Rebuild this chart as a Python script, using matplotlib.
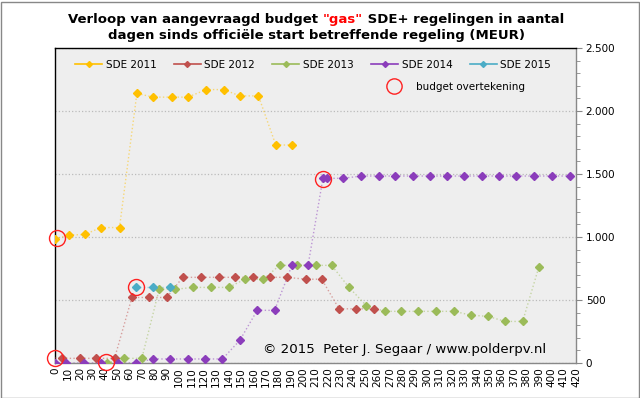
import matplotlib
matplotlib.use("Agg")
import matplotlib.pyplot as plt
from matplotlib.lines import Line2D
from matplotlib.patches import Rectangle
from matplotlib.ticker import FuncFormatter, MultipleLocator

plt.rcParams['font.family'] = ['DejaVu Sans']

# ---- data (days since start, MEUR) ----
days_2011 = [0, 11, 24, 37, 52, 66, 79, 94, 107, 122, 136, 149, 164, 178, 191]
vals_2011 = [985, 1015, 1020, 1075, 1075, 2140, 2110, 2110, 2110, 2170, 2170, 2120, 2120, 1730, 1730]

days_2012 = [0, 6, 20, 33, 48, 62, 76, 90, 103, 118, 132, 145, 160, 173, 187, 202, 215, 229, 243, 257]
vals_2012 = [40, 37, 37, 37, 37, 520, 520, 520, 680, 680, 680, 680, 680, 680, 680, 665, 665, 430, 430, 430]

days_2013 = [42, 56, 70, 84, 97, 111, 126, 140, 153, 168, 181, 195, 210, 223, 237, 251, 266, 279, 293,
             307, 322, 335, 349, 363, 377, 390]
vals_2013 = [0, 37, 37, 585, 585, 600, 600, 600, 665, 665, 775, 775, 775, 775, 600, 455, 410, 410, 410,
             410, 410, 380, 370, 330, 330, 760]

days_2014 = [0, 9, 23, 37, 51, 65, 79, 93, 107, 121, 135, 149, 163, 177, 191, 204, 216, 219, 232, 247,
             261, 274, 289, 302, 316, 330, 344, 358, 372, 386, 401, 415]
vals_2014 = [0, 0, 0, 0, 0, 0, 32, 32, 32, 32, 32, 180, 418, 418, 775, 775, 1466, 1466, 1466, 1484,
             1484, 1484, 1484, 1484, 1484, 1484, 1484, 1484, 1484, 1484, 1484, 1484]

days_2015 = [65, 79, 93]
vals_2015 = [600, 600, 600]

circle_days = [0, 2, 41, 65, 216]
circle_vals = [42, 990, 10, 600, 1462]

series_labels = ["SDE 2011", "SDE 2012", "SDE 2013", "SDE 2014", "SDE 2015"]
circle_label = "budget overtekening"
x_ticks = list(range(0, 421, 10))
y_ticks = [0, 500, 1000, 1500, 2000, 2500]

colors = ["#FFC000", "#C0504D", "#9BBB59", "#8B3DBB", "#4BACC6"]

fig = plt.figure(figsize=(6.4, 3.98), dpi=100)
fig.patch.set_facecolor("white")
ax = fig.add_axes([55 / 640, 35 / 398, 521 / 640, 315 / 398])
ax.set_facecolor("#EEEEEE")

all_series = [(days_2011, vals_2011), (days_2012, vals_2012), (days_2013, vals_2013),
              (days_2014, vals_2014), (days_2015, vals_2015)]
for i, ((d, v), c) in enumerate(zip(all_series, colors)):
    ax.plot(d, v, linestyle=":", linewidth=1.0, color=c, alpha=0.5, zorder=3)
    mev = list(range(1, len(d))) if i == 1 else None
    ax.plot(d, v, linestyle="none", marker="D", markersize=4.2, color=c, zorder=4, markevery=mev)

ax.plot(circle_days, circle_vals, linestyle="none", marker="o", markersize=11.5, markerfacecolor="none",
        markeredgecolor="#FF2020", markeredgewidth=1.0, zorder=5, clip_on=False)

ax.set_xlim(0, 420)
ax.set_ylim(0, 2500)
ax.set_xticks(x_ticks)
ax.set_xticklabels([str(t) for t in x_ticks], rotation=90, fontsize=7.5)
ax.tick_params(axis="x", length=0, pad=3)

ax.yaxis.tick_right()
ax.set_yticks(y_ticks)
ax.yaxis.set_major_formatter(FuncFormatter(lambda v, p: f"{int(v):,}".replace(",", ".")))
ax.yaxis.set_minor_locator(MultipleLocator(100))
ax.tick_params(axis="y", which="major", length=4, color="#888888", labelsize=7.5, pad=3)
ax.tick_params(axis="y", which="minor", length=3, color="#888888")
ax.grid(axis="y", which="major", linestyle=":", color="#BBBBBB", linewidth=0.9, zorder=0)
ax.set_axisbelow(True)

ax.spines["left"].set_color("black")
ax.spines["top"].set_color("black")
ax.spines["right"].set_color("#888888")
ax.spines["bottom"].set_color("#888888")
for s in ax.spines.values():
    s.set_linewidth(1.0)

# legend row 1
handles = [Line2D([0], [0], color=c, linewidth=1.2, marker="D", markersize=3) for c in colors]
fig.legend(handles, series_labels, ncol=5, loc="upper left",
           bbox_to_anchor=(75 / 640, 1 - 60 / 398), frameon=False, fontsize=7.5,
           handlelength=2.6, handletextpad=0.35, columnspacing=1.65, borderpad=0, borderaxespad=0)
# legend row 2
ch = Line2D([0], [0], linestyle="none", marker="o", markersize=11, markerfacecolor="none",
            markeredgecolor="#FF2020", markeredgewidth=1.0)
fig.legend([ch], [circle_label], loc="upper left", bbox_to_anchor=(384 / 640, 1 - 82 / 398),
           frameon=False, fontsize=7.5, handlelength=2.0, handletextpad=1.1, borderpad=0,
           borderaxespad=0)

# copyright
fig.text(263 / 640, 1 - 349 / 398, "\u00a9 2015  Peter J. Segaar / www.polderpv.nl", fontsize=9.6,
         ha="left", va="center", zorder=6)

# title with red "gas"
renderer = fig.canvas.get_renderer()
tfs = 9.5
parts = [("Verloop van aangevraagd budget ", "black"), ('"gas"', "#FF0000"),
         (" SDE+ regelingen in aantal", "black")]
objs = []
for s, c in parts:
    objs.append(fig.text(0, 1 - 19 / 398, s, fontsize=tfs, fontweight="bold", color=c,
                         ha="left", va="center"))
widths = [o.get_window_extent(renderer).width for o in objs]
total = sum(widths)
x0 = 316 - total / 2
for o, w in zip(objs, widths):
    o.set_x(x0 / 640)
    x0 += w
fig.text(316 / 640, 1 - 36 / 398, "dagen sinds offici\u00eble start betreffende regeling (MEUR)",
         fontsize=tfs, fontweight="bold", ha="center", va="center")

fig.patches.append(Rectangle((0.5 / 640, 0.5 / 398), 638 / 640, 396 / 398, transform=fig.transFigure,
                             fill=False, edgecolor="#888888", linewidth=1.0))

fig.savefig("out.png", dpi=100)
